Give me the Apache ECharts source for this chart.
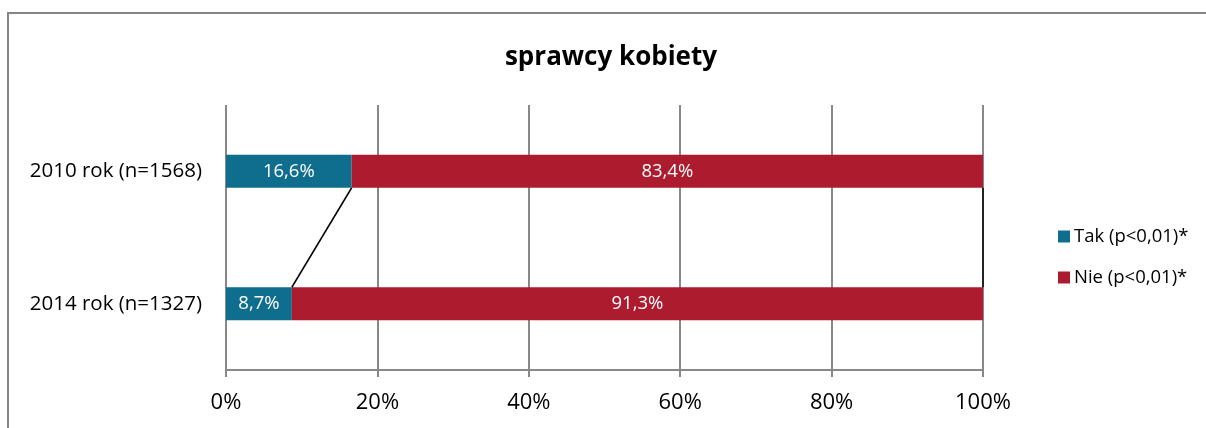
<!DOCTYPE html>
<html>
<head>
<meta charset="utf-8">
<script src="https://cdn.jsdelivr.net/npm/echarts@6/dist/echarts.min.js"></script>
<style>
  html, body { margin: 0; padding: 0; background: #fff; }
  #frame { position: absolute; left: 7px; top: 12px; width: 1210px; height: 430px;
           border-left: 2px solid #868686; border-top: 2px solid #868686; box-sizing: border-box; }
  #chart { position: absolute; left: 0; top: 0; width: 1206px; height: 428px; }
</style>
</head>
<body>
<div id="frame"></div>
<div id="chart"></div>
<script>
// dane wykresu
const categories = ['2014 rok (n=1327)', '2010 rok (n=1568)'];
const takValues = [8.7, 16.6];
const nieValues = [91.3, 83.4];
const seriesNames = ['Tak (p<0,01)*', 'Nie (p<0,01)*'];
const xTicks = [0, 20, 40, 60, 80, 100];

const BAR_W = 33;
const chart = echarts.init(document.getElementById('chart'));

// linie łączące słupki (series lines jak w Excelu)
function seriesLines(params, api) {
  const half = BAR_W / 2;
  const lines = [];
  const cumTak = takValues;
  const cumAll = takValues.map((v, i) => v + nieValues[i]);
  [cumTak, cumAll].forEach(arr => {
    for (let i = 0; i < arr.length - 1; i++) {
      const a = api.coord([arr[i], i]);
      const b = api.coord([arr[i + 1], i + 1]);
      lines.push({
        type: 'line',
        shape: { x1: a[0], y1: a[1] - half, x2: b[0], y2: b[1] + half },
        style: { stroke: '#000', lineWidth: 1.5 }
      });
    }
  });
  return { type: 'group', children: lines };
}

const fmt = p => p.value.toFixed(1).replace('.', ',') + '%';

chart.setOption({
  animation: false,
  title: {
    text: 'sprawcy kobiety', left: 606, top: 40, textAlign: 'center',
    textStyle: { fontFamily: 'Open Sans', fontSize: 26, fontWeight: 'bold', color: '#000' }
  },
  legend: {
    orient: 'vertical', left: 1053, top: 222, itemGap: 22,
    itemWidth: 12, itemHeight: 12, icon: 'rect',
    data: seriesNames,
    textStyle: { fontFamily: 'Open Sans', fontSize: 18.5, color: '#000', padding: [0, 0, 0, -1] }
  },
  grid: { left: 226, right: 223, top: 105, bottom: 58 },
  xAxis: {
    type: 'value', min: 0, max: 100, interval: 20,
    axisLine: { show: true, lineStyle: { color: '#888', width: 2 } },
    axisTick: { show: true, length: 7, lineStyle: { color: '#888', width: 2 } },
    splitLine: { show: true, lineStyle: { color: '#888', width: 2 } },
    axisLabel: {
      margin: 22, fontFamily: 'Open Sans', fontSize: 22, color: '#000',
      formatter: v => xTicks.includes(v) ? v + '%' : ''
    }
  },
  yAxis: {
    type: 'category', data: categories,
    axisLine: { show: false }, axisTick: { show: false },
    axisLabel: { margin: 24, fontFamily: 'Open Sans', fontSize: 20.5, color: '#000' }
  },
  series: [
    {
      name: seriesNames[0], type: 'bar', stack: 'all', data: takValues, barWidth: BAR_W,
      itemStyle: { color: '#0F6D8E' },
      label: { show: true, position: 'inside', color: '#fff', fontFamily: 'Open Sans', fontSize: 18.5, formatter: fmt }
    },
    {
      name: seriesNames[1], type: 'bar', stack: 'all', data: nieValues, barWidth: BAR_W,
      itemStyle: { color: '#AD1B2F' },
      label: { show: true, position: 'inside', color: '#fff', fontFamily: 'Open Sans', fontSize: 18.5, formatter: fmt }
    },
    {
      type: 'custom', renderItem: seriesLines, data: [0], silent: true, z: 5
    }
  ]
});
</script>
</body>
</html>
